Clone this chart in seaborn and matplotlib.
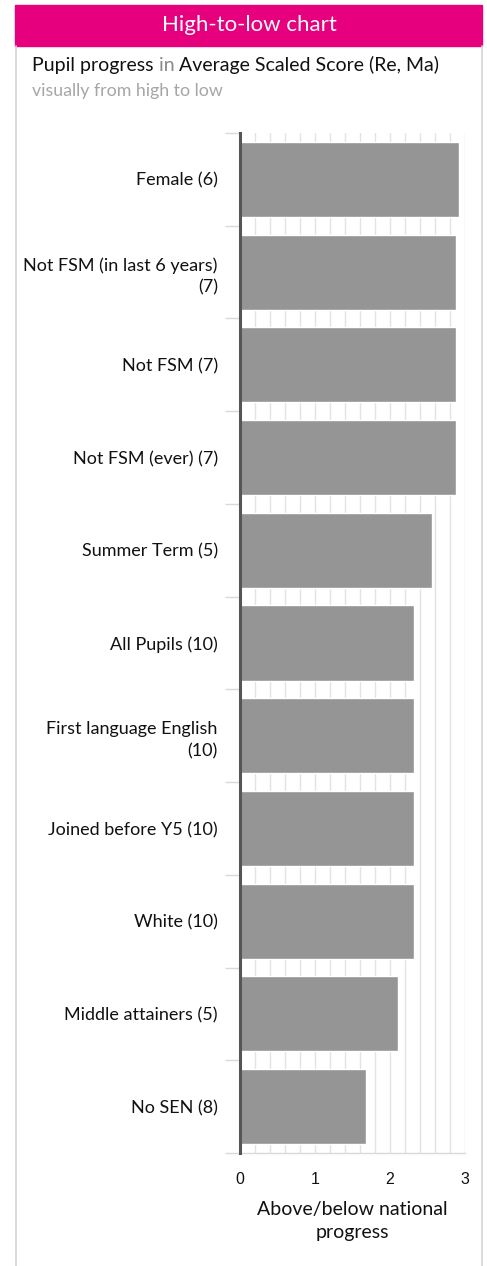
import numpy as np
import pandas as pd
import matplotlib.pyplot as plt
import seaborn as sns
from matplotlib.patches import Rectangle
from matplotlib.lines import Line2D

# data
groups = ['Female (6)', 'Not FSM (in last 6 years)\n(7)', 'Not FSM (7)', 'Not FSM (ever) (7)',
          'Summer Term (5)', 'All Pupils (10)', 'First language English\n(10)',
          'Joined before Y5 (10)', 'White (10)', 'Middle attainers (5)', 'No SEN (8)']
progress = [2.92, 2.88, 2.88, 2.88, 2.56, 2.32, 2.32, 2.32, 2.32, 2.11, 1.68]
x_ticks = [0, 1, 2, 3]

df = pd.DataFrame({'group': groups, 'progress': progress})

sns.set_style('white')
plt.rcParams['font.family'] = ['Lato', 'DejaVu Sans']

W, H = 487, 1266
fig = plt.figure(figsize=(W / 100, H / 100), dpi=100)
ax = fig.add_axes([240 / W, 1 - 1153 / H, 225 / W, (1153 - 133) / H])

# header + frame
fig.patches.append(Rectangle((15 / W, 1 - 45.5 / H), 467 / W, 40.5 / H, transform=fig.transFigure,
                             color='#e6007e', zorder=0))
fig.text(249 / W, 1 - 25 / H, 'High-to-low chart', color='white', fontsize=16,
         ha='center', va='center')
for xx in (15.5, 481.5):
    fig.lines.append(Line2D([xx / W, xx / W], [0, 1 - 45.5 / H], transform=fig.transFigure,
                            color='#d4d4d4', lw=1.2))

t1 = fig.text(32 / W, 1 - 74 / H, 'Pupil progress', color='#111111', fontsize=14, va='bottom')
a2 = ax.annotate(' in ', xy=(1, 0), xycoords=t1, color='#888888', fontsize=14,
                 va='bottom', ha='left', annotation_clip=False)
ax.annotate('Average Scaled Score (Re, Ma)', xy=(1, 0), xycoords=a2, color='#111111',
            fontsize=14, va='bottom', ha='left', annotation_clip=False)
fig.text(32 / W, 1 - 91 / H, 'visually from high to low', color='#a6a6a6', fontsize=12.8, va='center')

sns.barplot(data=df, x='progress', y='group', orient='h', color='#959595', saturation=1,
            width=0.81, ax=ax, zorder=3)

ax.set_xlim(0, 3)
ax.set_ylim(len(groups) - 0.5, -0.5)
ax.set_xticks(x_ticks)
ax.set_xticklabels([str(v) for v in x_ticks], fontfamily='Liberation Sans', fontsize=11.5)
ax.set_xticks(np.arange(0, 3.01, 0.2), minor=True)
ax.set_yticks(np.arange(-0.5, len(groups), 1), minor=True)
ax.grid(False)
ax.grid(True, which='minor', axis='x', color='#e3e3e3', lw=1, zorder=0)
ax.grid(True, which='major', axis='x', color='#e3e3e3', lw=1, zorder=0)

ax.tick_params(axis='y', which='major', length=0, pad=16, labelsize=13, labelcolor='#111111')
ax.tick_params(axis='y', which='minor', length=11, width=1, color='#d9d9d9', left=True)
ax.tick_params(axis='x', which='both', length=0, pad=14, labelcolor='#111111')
for lab in ax.get_yticklabels():
    lab.set_multialignment('right')
    lab.set_linespacing(1.45)

ax.set_xlabel('Above/below national\nprogress', fontsize=14, color='#111111', labelpad=10,
              linespacing=1.4)
ax.set_ylabel('')

for s in ('top', 'right'):
    ax.spines[s].set_visible(False)
ax.spines['left'].set_color('#555555')
ax.spines['left'].set_linewidth(2.2)
ax.spines['left'].set_zorder(5)
ax.spines['bottom'].set_color('#d9d9d9')
ax.spines['bottom'].set_linewidth(1)

fig.savefig('out.png', dpi=100, facecolor='white')
